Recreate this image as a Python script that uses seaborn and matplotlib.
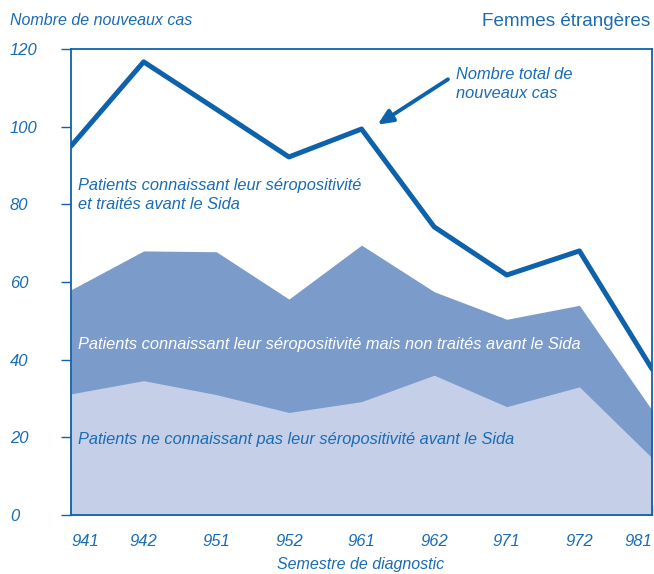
import numpy as np
import pandas as pd
import matplotlib
matplotlib.use("Agg")
import matplotlib.pyplot as plt
import seaborn as sns

semestres = ["941", "942", "951", "952", "961", "962", "971", "972", "981"]
total = [95, 116.7, 104.5, 92.2, 99.4, 74.2, 61.8, 68, 37.6]
connaissant_total = [58, 68, 67.8, 55.6, 69.5, 57.5, 50.4, 54, 27]
ne_connaissant_pas = [31.2, 34.6, 31, 26.4, 29.2, 36, 27.9, 33, 14.7]

BLUE = "#0d62ab"
TEXT = "#1a6cb4"
DARK = "#7b9bcb"
LIGHT = "#c5cfe8"

sns.set_style("white")
plt.rcParams["font.family"] = ["Liberation Sans", "DejaVu Sans"]

df = pd.DataFrame({"idx": np.arange(len(semestres)), "total": total})

fig = plt.figure(figsize=(6.54, 5.74), dpi=100)
ax = fig.add_axes([0.1086, 0.1028, 0.8884, 0.8118])

ax.fill_between(df["idx"], 0, connaissant_total, color=DARK, lw=0)
ax.fill_between(df["idx"], 0, ne_connaissant_pas, color=LIGHT, lw=0)
sns.lineplot(data=df, x="idx", y="total", color=BLUE, lw=3.6, ax=ax)

ax.set_xlim(0, len(semestres) - 1)
ax.set_ylim(0, 120)
ax.set_xticks(range(len(semestres)))
ax.set_xticklabels(semestres)
ax.set_yticks(range(0, 121, 20))
ax.set_xlabel("")
ax.set_ylabel("")

for s in ax.spines.values():
    s.set_color(BLUE)
    s.set_linewidth(1.3)

ax.tick_params(axis="x", bottom=True, direction="in", length=7, width=1, color=BLUE,
               labelcolor=TEXT, labelsize=12, pad=14)
ax.tick_params(axis="y", left=True, direction="out", length=7, width=1, color=BLUE,
               labelcolor=TEXT, labelsize=12, pad=37)
for lab in ax.get_yticklabels():
    lab.set_horizontalalignment("left")
    lab.set_style("italic")
xlabs = ax.get_xticklabels()
for lab in xlabs:
    lab.set_style("italic")
xlabs[0].set_horizontalalignment("left")
xlabs[-1].set_horizontalalignment("right")

txt = dict(style="italic", fontsize=11.8)
ax.text(0.1, 82.5, "Patients connaissant leur séropositivité\net traités avant le Sida",
        color=TEXT, va="center", linespacing=1.35, **txt)
ax.text(0.1, 44, "Patients connaissant leur séropositivité mais non traités avant le Sida",
        color="white", va="center", **txt)
ax.text(0.1, 19.5, "Patients ne connaissant pas leur séropositivité avant le Sida",
        color=TEXT, va="center", **txt)

ax.text(5.3, 111, "Nombre total de\nnouveaux cas", color=TEXT, va="center",
        ha="left", linespacing=1.35, **txt)
ax.annotate("", xy=(4.22, 100.5), xytext=(5.19, 112.2),
            arrowprops=dict(arrowstyle="-|>,head_length=0.9,head_width=0.4",
                            color=BLUE, lw=2.8, shrinkA=0, shrinkB=0))

fig.text(0.015, 0.965, "Nombre de nouveaux cas", color=TEXT, style="italic",
         fontsize=11.5, va="center")
fig.text(0.995, 0.963, "Femmes étrangères", color=TEXT, fontsize=13.6,
         va="center", ha="right")
fig.text(0.552, 0.017, "Semestre de diagnostic", color=TEXT, style="italic",
         fontsize=11.5, va="center", ha="center")

fig.savefig("out.png", dpi=100)
